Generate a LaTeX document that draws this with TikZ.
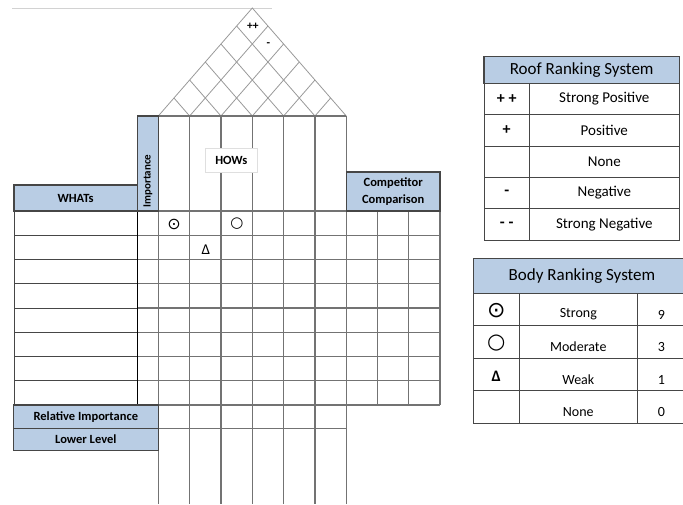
\documentclass[tikz,border=0pt]{standalone}
\usepackage{fontspec}
\setmainfont{Carlito}
\newfontfamily\symfont{DejaVu Sans}
\usepackage{xcolor}
\usetikzlibrary{positioning,calc}
\definecolor{hdrblue}{RGB}{185,205,228}
\definecolor{gridgray}{RGB}{115,115,115}
\definecolor{rulegray}{RGB}{70,70,70}

\begin{document}
\begin{tikzpicture}[x=1pt,y=-1pt,
  hdr/.style={draw=rulegray,line width=1.1pt,fill=hdrblue},
  grd/.style={draw=gridgray,line width=1.2pt},
  roofline/.style={draw=gray!80,line width=0.8pt},
  tbl/.style={draw=rulegray,line width=0.9pt},
  lbl/.style={font=\bfseries\fontsize{12.5}{16.5}\selectfont,align=center,inner sep=0pt},
  txt/.style={font=\fontsize{14}{16}\selectfont,inner sep=0pt},
  sym/.style={font=\symfont\fontsize{22}{24}\selectfont,inner sep=0pt}]
\useasboundingbox (0,0) rectangle (683,504);

% Top rule
\draw[gray!35,line width=0.8pt] (12,8) -- (272,8);

% Roof
\draw[roofline] (158.3,116) -- (252.3,8) -- (346.3,116);
\foreach \i in {1,...,5}{
  \draw[roofline] ({158.3+\i*31.33},116) -- ({(158.3+\i*31.33+346.3)/2},{116-1.149*(188-\i*31.33)/2});
  \draw[roofline] ({158.3+\i*31.33},116) -- ({158.3+\i*31.33/2},{116-1.149*\i*31.33/2});
}
\node[font=\bfseries\fontsize{11.5}{12}\selectfont,inner sep=0pt] (pp) at (252.8,26) {++};
\node[font=\bfseries\fontsize{11.5}{12}\selectfont,inner sep=0pt] (mn) at (268.3,45) {-};

% HOWs columns
\draw[grd] (137.3,116) -- (346.3,116);
\foreach \i in {0,...,6}
  \draw[grd] ({158.3+\i*31.33},116) -- ({158.3+\i*31.33},405);
\node[draw=gray!25,fill=white,minimum width=52.7pt,minimum height=24.3pt,lbl] (hows) at (231.3,160) {HOWs};

% Body rows
\foreach \r in {0,...,8}{
  \draw[grd] (137.3,{211+\r*24.25}) -- (440,{211+\r*24.25});
  \draw[tbl] (14,{211+\r*24.25}) -- (137.3,{211+\r*24.25});
}
\draw[tbl] (14,211) -- (14,405);
\foreach \j in {1,...,3}
  \draw[grd] ({346.3+\j*31.23},211) -- ({346.3+\j*31.23},405);
\draw[black,line width=1.1pt] (137.3,211) -- (137.3,405);

% Relative importance and lower level
\draw[grd] (158.3,428.3) -- (346.3,428.3);
\foreach \i in {0,...,6}
  \draw[grd] ({158.3+\i*31.33},405) -- ({158.3+\i*31.33},504);

% Headers
\draw[hdr] (137.3,116) rectangle (158.3,211);
\node[lbl,font=\bfseries\fontsize{11}{13}\selectfont,rotate=90] (imp) at (147.8,181) {Importance};
\draw[hdr] (14,185) rectangle (137.3,211);
\node[lbl] (whats) at (75.6,198) {WHATs};
\draw[hdr] (346.3,172) rectangle (440,211);
\node[lbl] (comp) at (393.2,191.5) {Competitor\\Comparison};
\draw[hdr] (13.3,405) rectangle (158.3,428.3);
\node[lbl] (relimp) at (85.8,416.6) {Relative Importance};
\draw[hdr] (13.3,428.3) rectangle (158.3,450.7);
\node[lbl] (lower) at (85.8,439.5) {Lower Level};

% Relationships
\node[sym,font=\symfont\fontsize{16}{17}\selectfont] (s11) at (174,224) {⊙};
\node[sym,font=\symfont\fontsize{15}{16}\selectfont] (s13) at (236.8,224) {○};
\node[txt,font=\fontsize{15}{16}\selectfont] (s22) at (205.8,249.5) {Δ};

% Roof ranking system
\draw[hdr] (484,56.7) rectangle (679.3,83.3);
\node[txt,font=\fontsize{17}{19}\selectfont] (roofhdr) at (581.7,70) {Roof Ranking System};
\foreach \r in {0,...,4}
  \draw[tbl] (484,{83.3+\r*31.35}) rectangle (679.3,{83.3+(\r+1)*31.35});
\draw[tbl] (529.3,83.3) -- (529.3,240.05);
\foreach \s/\t [count=\r from 0] in {{+ +}/Strong Positive,+/Positive,/None,-/Negative,{- -}/Strong Negative}{
  \node[txt,font=\bfseries\fontsize{16}{18}\selectfont] (rsym\r) at (506.7,{83.3+(\r+0.5)*31.35}) {\s};
  \node[txt,font=\fontsize{15}{17}\selectfont] (rlab\r) at (604.3,{83.3+(\r+0.5)*31.35}) {\t};
}

% Body ranking system
\fill[hdrblue] (473.3,258.3) rectangle (683,293.3);
\draw[tbl] (683,258.3) -- (473.3,258.3) -- (473.3,423.3) -- (683,423.3);
\foreach \r in {1,...,3}
  \draw[tbl] (473.3,{293.3+\r*32.5}) -- (683,{293.3+\r*32.5});
\draw[tbl] (473.3,293.3) -- (683,293.3);
\draw[tbl] (519.3,293.3) -- (519.3,423.3);
\draw[tbl] (637.3,293.3) -- (637.3,423.3);
\node[txt,font=\fontsize{17}{19}\selectfont] (bodyhdr) at (582,275.8) {Body Ranking System};
\foreach \t/\v [count=\r from 0] in {Strong/9,Moderate/3,Weak/1,None/0}{
  \node[txt] (blab\r) at (578.3,{293.3+(\r+0.5)*32.5+5}) {\t};
  \node[txt] (bval\r) at (661.5,{293.3+(\r+0.5)*32.5+5}) {\v};
}
\node[sym] (bsym0) at (496.3,311) {⊙};
\node[sym,font=\symfont\fontsize{21}{22}\selectfont] (bsym1) at (496.3,343.3) {○};
\node[txt,font=\bfseries\fontsize{16}{18}\selectfont] (bsym2) at (496.3,376) {Δ};

\end{tikzpicture}
\end{document}
